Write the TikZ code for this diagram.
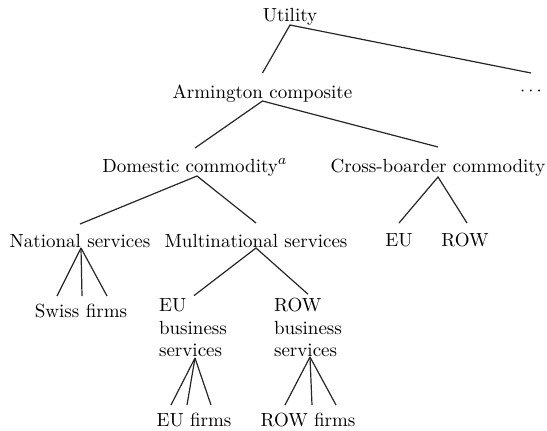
\documentclass[tikz,border=0pt]{standalone}
\begin{document}
\begin{tikzpicture}[x=0.5pt,y=-0.5pt,
  lbl/.style={inner sep=0pt, outer sep=0pt, anchor=base,
              font=\fontsize{9.5}{11.3}\selectfont},
  stack/.style={lbl, anchor=south, align=left},
  lk/.style={draw=black!85, line width=0.6pt}]
\useasboundingbox (0,0) rectangle (547,430);

% tree nodes (x centre, baseline)
\node[lbl] (u)    at (290,21)  {Utility};
\node[lbl] (a)    at (262.5,98) {Armington composite};
\node[lbl] (dots) at (531,95)  {$\cdots$};
\node[lbl] (d)    at (195,172) {Domestic commodity$^a$};
\node[lbl] (c)    at (438,172) {Cross-boarder commodity};
\node[lbl] (n)    at (80,247)  {National services};
\node[lbl] (m)    at (256,247) {Multinational services};
\node[lbl] (eu)   at (399,246) {EU};
\node[lbl] (row)  at (465,246) {ROW};
\node[lbl] (sw)   at (81,317)  {Swiss firms};
\node[stack] (eb) at (193,357) {EU\\business\\services};
\node[stack] (rb) at (308,357) {ROW\\business\\services};
\node[lbl] (ef)   at (194,426) {EU firms};
\node[lbl] (rf)   at (308,426) {ROW firms};

% branches
\draw[lk] ([yshift=12.5pt]a.base) -- ([yshift=-2pt]u.base) -- ([yshift=11pt]dots.base);
\draw[lk] ([yshift=12pt]d.base) -- ([yshift=-1.5pt]a.base) -- ([yshift=12.5pt]c.base);
\draw[lk] ([yshift=11.5pt]n.base) -- ([xshift=1pt,yshift=-2pt]d.base) -- ([yshift=12pt]m.base);
\draw[lk] ([yshift=11.5pt]eu.base) -- ([yshift=-2.5pt]c.base) -- ([xshift=1pt,yshift=11.5pt]row.base);

\draw[lk] ([xshift=-12pt,yshift=10.5pt]sw.base) -- ([xshift=0.5pt,yshift=-0.5pt]n.base);
\draw[lk] ([xshift=0.5pt,yshift=10.5pt]sw.base) -- ([xshift=0.5pt,yshift=-0.5pt]n.base);
\draw[lk] ([xshift=13pt,yshift=10.5pt]sw.base) -- ([xshift=0.5pt,yshift=-0.5pt]n.base);

\draw[lk] ([xshift=0.5pt,yshift=1.5pt]eb.north) -- ([yshift=-0.5pt]m.base) -- ([yshift=2pt]rb.north);

\draw[lk] ([xshift=-11.5pt,yshift=10.5pt]ef.base) -- ([xshift=1pt,yshift=-0.5pt]eb.south);
\draw[lk] ([xshift=-3.5pt,yshift=10.5pt]ef.base) -- ([xshift=1pt,yshift=-0.5pt]eb.south);
\draw[lk] ([xshift=8.5pt,yshift=10.5pt]ef.base) -- ([xshift=1pt,yshift=-0.5pt]eb.south);

\draw[lk] ([xshift=-11.5pt,yshift=10.5pt]rf.base) -- ([xshift=1pt]rb.south);
\draw[lk] ([xshift=2pt,yshift=10.5pt]rf.base) -- ([xshift=1pt]rb.south);
\draw[lk] ([xshift=14pt,yshift=10.5pt]rf.base) -- ([xshift=1pt]rb.south);
\end{tikzpicture}
\end{document}
